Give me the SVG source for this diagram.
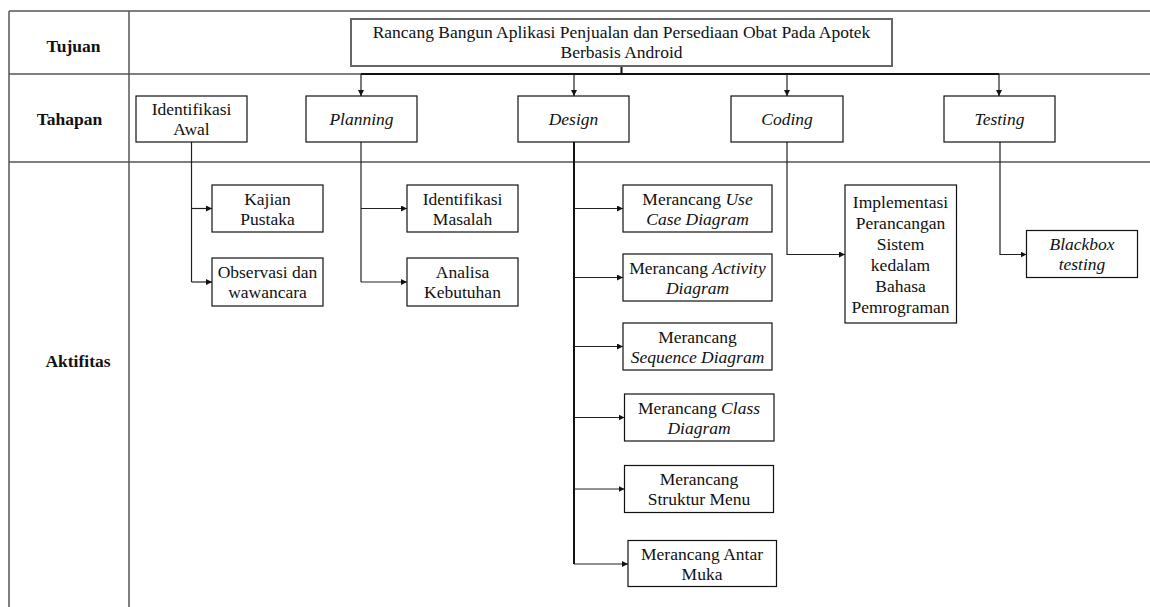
<svg xmlns="http://www.w3.org/2000/svg" width="1150" height="607" viewBox="0 0 1150 607">
<defs>
<style>
text{font-size:17.5px;fill:#111;text-anchor:middle}
.t{font-family:"Liberation Serif",serif}
.b{font-weight:bold}
.i{font-style:italic}
.grid{stroke:#555;stroke-width:1.5;fill:none}
.box{fill:#fff;stroke:#111;stroke-width:1.2}
.tbox{fill:#fff;stroke:#666;stroke-width:2}
.c{stroke:#222;stroke-width:1.2;fill:none}
.cd{stroke:#111;stroke-width:2;fill:none}
</style>
<marker id="ah" viewBox="0 0 6 6" refX="6" refY="3" markerWidth="6" markerHeight="6" markerUnits="userSpaceOnUse" orient="auto">
<path d="M0,0 L6,3 L0,6 z" fill="#111"/>
</marker>
</defs>
<g id="table">
<path class="grid" d="M9,11 H1150 M9,74 H1150 M9,162 H1150 M9,11 V607 M129,11 V607"/>
<text class="t b" x="73.5" y="52">Tujuan</text>
<text class="t b" x="69.5" y="125">Tahapan</text>
<text class="t b" x="78" y="367">Aktifitas</text>
</g>
<g id="connectors">
<path class="cd" d="M621.5,66 V74"/>
<path class="cd" d="M361,74 H999"/>
<path class="c" d="M361,74 V96" marker-end="url(#ah)"/>
<path class="c" d="M574,74 V96" marker-end="url(#ah)"/>
<path class="c" d="M787,74 V96" marker-end="url(#ah)"/>
<path class="c" d="M999,74 V96" marker-end="url(#ah)"/>
<path class="c" d="M191.5,142 V282"/>
<path class="c" d="M191.5,208.5 H212" marker-end="url(#ah)"/>
<path class="c" d="M191.5,282 H212" marker-end="url(#ah)"/>
<path class="c" d="M361,142 V282"/>
<path class="c" d="M361,208.5 H407" marker-end="url(#ah)"/>
<path class="c" d="M361,282 H407" marker-end="url(#ah)"/>
<path class="cd" d="M574,142 V564"/>
<path class="c" d="M574,208.5 H623" marker-end="url(#ah)"/>
<path class="c" d="M574,277.5 H623" marker-end="url(#ah)"/>
<path class="c" d="M574,346.5 H623" marker-end="url(#ah)"/>
<path class="c" d="M574,417.5 H624.5" marker-end="url(#ah)"/>
<path class="c" d="M574,489 H624.5" marker-end="url(#ah)"/>
<path class="c" d="M574,564 H628" marker-end="url(#ah)"/>
<path class="c" d="M787,142 V254.5 H845" marker-end="url(#ah)"/>
<path class="c" d="M1000,142 V254.5 H1026.5" marker-end="url(#ah)"/>
</g>
<g id="tujuan">
<rect class="tbox" x="351" y="19" width="541" height="47"/>
<text class="t" x="621.5" y="38">Rancang Bangun Aplikasi Penjualan dan Persediaan Obat Pada Apotek</text>
<text class="t" x="621.5" y="58">Berbasis Android</text>
</g>
<g id="identifikasi-awal">
<rect class="box" x="136" y="96" width="111" height="46"/>
<text class="t" x="191.5" y="115">Identifikasi</text>
<text class="t" x="191.5" y="135">Awal</text>
</g>
<g id="planning">
<rect class="box" x="306" y="96" width="111" height="46"/>
<text class="t i" x="361.5" y="125">Planning</text>
</g>
<g id="design">
<rect class="box" x="518" y="96" width="111" height="46"/>
<text class="t i" x="573.5" y="125">Design</text>
</g>
<g id="coding">
<rect class="box" x="731" y="96" width="112" height="46"/>
<text class="t i" x="787" y="125">Coding</text>
</g>
<g id="testing">
<rect class="box" x="944" y="96" width="111" height="46"/>
<text class="t i" x="999.5" y="125">Testing</text>
</g>
<g id="kajian-pustaka">
<rect class="box" x="212" y="185" width="111" height="47"/>
<text class="t" x="267.5" y="204.5">Kajian</text>
<text class="t" x="267.5" y="224.5">Pustaka</text>
</g>
<g id="observasi">
<rect class="box" x="212" y="258" width="111" height="48"/>
<text class="t" x="267.5" y="278">Observasi dan</text>
<text class="t" x="267.5" y="298">wawancara</text>
</g>
<g id="identifikasi-masalah">
<rect class="box" x="407" y="185" width="111" height="47"/>
<text class="t" x="462.5" y="204.5">Identifikasi</text>
<text class="t" x="462.5" y="224.5">Masalah</text>
</g>
<g id="analisa-kebutuhan">
<rect class="box" x="407" y="258" width="111" height="48"/>
<text class="t" x="462.5" y="278">Analisa</text>
<text class="t" x="462.5" y="298">Kebutuhan</text>
</g>
<g id="use-case">
<rect class="box" x="623" y="185" width="149" height="47"/>
<text class="t" x="697.5" y="204.5">Merancang <tspan class="i">Use</tspan></text>
<text class="t i" x="697.5" y="224.5">Case Diagram</text>
</g>
<g id="activity">
<rect class="box" x="623" y="254" width="149" height="47"/>
<text class="t" x="697.5" y="273.5">Merancang <tspan class="i">Activity</tspan></text>
<text class="t i" x="697.5" y="293.5">Diagram</text>
</g>
<g id="sequence">
<rect class="box" x="623" y="323" width="149" height="47"/>
<text class="t" x="697.5" y="342.5">Merancang</text>
<text class="t i" x="697.5" y="362.5">Sequence Diagram</text>
</g>
<g id="class">
<rect class="box" x="624.5" y="394" width="149.5" height="47"/>
<text class="t" x="699" y="413.5">Merancang <tspan class="i">Class</tspan></text>
<text class="t i" x="699" y="433.5">Diagram</text>
</g>
<g id="struktur-menu">
<rect class="box" x="624.5" y="465.5" width="149" height="47"/>
<text class="t" x="699" y="485">Merancang</text>
<text class="t" x="699" y="505">Struktur Menu</text>
</g>
<g id="antar-muka">
<rect class="box" x="628" y="540.5" width="148.5" height="46"/>
<text class="t" x="702" y="559.5">Merancang Antar</text>
<text class="t" x="702" y="579.5">Muka</text>
</g>
<g id="implementasi">
<rect class="box" x="845" y="185" width="111.5" height="138"/>
<text class="t" x="900.5" y="207.5">Implementasi</text>
<text class="t" x="900.5" y="228.5">Perancangan</text>
<text class="t" x="900.5" y="249.5">Sistem</text>
<text class="t" x="900.5" y="270.5">kedalam</text>
<text class="t" x="900.5" y="291.5">Bahasa</text>
<text class="t" x="900.5" y="312.5">Pemrograman</text>
</g>
<g id="blackbox">
<rect class="box" x="1026.5" y="230.5" width="111" height="47"/>
<text class="t i" x="1082" y="250">Blackbox</text>
<text class="t i" x="1082" y="270">testing</text>
</g>
</svg>
